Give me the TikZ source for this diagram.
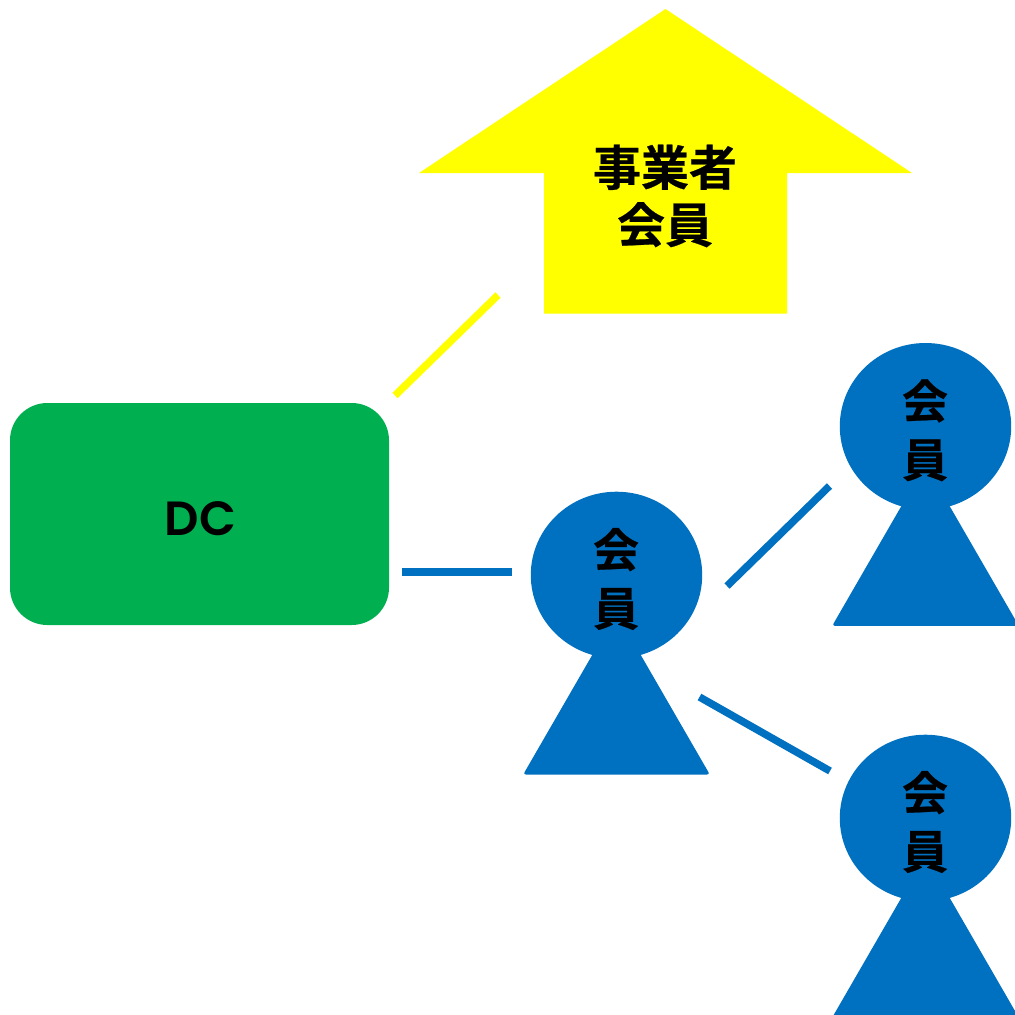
\documentclass[tikz,border=0pt]{standalone}
\usepackage{fontspec}
\setmainfont{Noto Sans CJK JP}[BoldFont={Noto Sans CJK JP Bold},BoldFeatures={FakeBold=0.5}]
\newfontfamily\dcfont{Poppins SemiBold}
\tikzset{
 px/.style={x=0.75pt,y=-0.75pt},
 lbl/.style={font=\bfseries\fontsize{36}{43}\selectfont,text=black,align=center,inner sep=0pt},
 mlbl/.style={font=\bfseries\fontsize{34.5}{44}\selectfont,text=black,align=center,inner sep=0pt},
 link/.style={line width=5.6pt}
}
\definecolor{cblue}{HTML}{0070C0}
\definecolor{cgreen}{HTML}{00B050}
\definecolor{cyel}{HTML}{FFFF00}
\newcommand{\person}[3]{%
 \fill[cblue,rounded corners=2pt] (#1-93.3,#2+199.5) -- (#1,#2+38) -- (#1+93.3,#2+199.5) -- cycle;
 \fill[cblue] (#1,#2) ellipse[x radius=85.7,y radius=83.3];
 \node[mlbl] (#3) at (#1-0.5,#2+4) {会\\員};
}
\begin{document}
\begin{tikzpicture}[px]
\useasboundingbox (0,0) rectangle (1015,1015);
\fill[white] (0,0) rectangle (1015,1015);
\fill[cyel] (665.5,9) -- (912,173) -- (787,173) -- (787,313.5) -- (544,313.5) -- (544,173) -- (419,173) -- cycle;
\node[lbl] (biz) at (665,196) {事業者\\会員};
\node[fill=cgreen,rounded corners=28pt,minimum width=284.25pt,minimum height=166.5pt,inner sep=0pt,text=black,font=\dcfont\fontsize{36}{44}\selectfont] (dc) at (199.5,514) {\kern1.5pt\raisebox{-16.3pt}[0pt][0pt]{DC}};
\coordinate (y1) at (395,395.5); \coordinate (y2) at (498,295);
\draw[cyel,link] (y1) -- (y2);
\person{616.5}{575}{m1}
\person{925.5}{426.3}{m2}
\person{925.5}{818}{m3}
\coordinate (a1) at (401.5,572); \coordinate (a2) at (512,572);
\coordinate (b1) at (727,586); \coordinate (b2) at (829.5,486);
\coordinate (c1) at (699.5,697); \coordinate (c2) at (830,771);
\draw[cblue,link] (a1) -- (a2);
\draw[cblue,link] (b1) -- (b2);
\draw[cblue,link] (c1) -- (c2);
\end{tikzpicture}
\end{document}
